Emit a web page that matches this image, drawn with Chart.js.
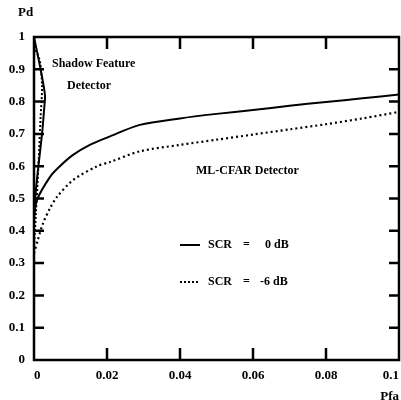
<!DOCTYPE html>
<html>
<head>
<meta charset="utf-8">
<script src="https://cdn.jsdelivr.net/npm/chart.js@4"></script>
<style>
  body { margin: 0; background: #fff; }
  #wrap { width: 401px; height: 400px; }
</style>
</head>
<body>
<div id="wrap"><canvas id="chart" width="401" height="400"></canvas></div>
<script>
// ML-CFAR detector curves
const pfaCfar0 = [0, 0.0008, 0.0044, 0.0071, 0.0107, 0.0153, 0.0203, 0.029, 0.04, 0.05, 0.06, 0.07, 0.08, 0.09, 0.1];
const pdCfar0 = [0.44, 0.495, 0.567, 0.60, 0.635, 0.666, 0.69, 0.728, 0.748, 0.762, 0.774, 0.787, 0.799, 0.81, 0.822];
const pfaCfar6 = [0, 0.001, 0.0025, 0.0044, 0.0063, 0.0107, 0.0173, 0.0208, 0.029, 0.04, 0.05, 0.06, 0.07, 0.08, 0.09, 0.1];
const pdCfar6 = [0.33, 0.37, 0.424, 0.47, 0.505, 0.557, 0.6, 0.613, 0.646, 0.666, 0.682, 0.698, 0.714, 0.73, 0.748, 0.768];

// shadow feature detector curves
const pfaShadow0 = [0, 0.0003, 0.0012, 0.0022, 0.0028, 0.003, 0.0018, 0];
const pdShadow0 = [0.45, 0.5, 0.6, 0.7, 0.78, 0.82, 0.9, 1.0];
const pfaShadow6 = [0, 0.0005, 0.0012, 0.0018, 0.0022, 0.0015, 0];
const pdShadow6 = [0.35, 0.45, 0.6, 0.75, 0.85, 0.93, 0.97];

const xTicks = [0, 0.02, 0.04, 0.06, 0.08, 0.1];
const yTicks = [0, 0.1, 0.2, 0.3, 0.4, 0.5, 0.6, 0.7, 0.8, 0.9, 1];

const toPoints = (xs, ys) => xs.map((x, i) => ({ x: x, y: ys[i] }));
const fmt = v => String(+Number(v).toFixed(2));
const serif = "'Liberation Serif', 'DejaVu Serif', serif";

const frameAndText = {
  id: "frameAndText",
  afterDraw(chart) {
    const ctx = chart.ctx;
    const a = chart.chartArea;
    const xs = chart.scales.x, ys = chart.scales.y;
    ctx.save();
    ctx.strokeStyle = "#000";
    ctx.lineWidth = 2.5;
    ctx.strokeRect(a.left, a.top, a.right - a.left, a.bottom - a.top);

    // inward ticks on all four sides
    ctx.beginPath();
    xTicks.slice(1, -1).forEach(v => {
      const px = xs.getPixelForValue(v);
      ctx.moveTo(px, a.bottom); ctx.lineTo(px, a.bottom - 12);
      ctx.moveTo(px, a.top); ctx.lineTo(px, a.top + 12);
    });
    yTicks.slice(1, -1).forEach(v => {
      const py = ys.getPixelForValue(v);
      ctx.moveTo(a.left, py); ctx.lineTo(a.left + 10, py);
      ctx.moveTo(a.right, py); ctx.lineTo(a.right - 10, py);
    });
    ctx.stroke();

    ctx.fillStyle = "#000";
    ctx.font = "bold 13px " + serif;
    ctx.textBaseline = "middle";
    ctx.textAlign = "left";
    ctx.fillText("Pd", 18, 13);

    ctx.font = "bold 12px " + serif;
    ctx.fillText("Shadow Feature", 52, 64);
    ctx.fillText("Detector", 67, 86);
    ctx.fillText("ML-CFAR Detector", 196, 171);

    // legend
    ctx.lineWidth = 2;
    ctx.beginPath();
    ctx.moveTo(180, 245); ctx.lineTo(200, 245);
    ctx.stroke();
    ctx.setLineDash([2, 2]);
    ctx.beginPath();
    ctx.moveTo(180, 282); ctx.lineTo(200, 282);
    ctx.stroke();
    ctx.setLineDash([]);
    ctx.fillText("SCR", 208, 245);
    ctx.fillText("=", 243, 245);
    ctx.fillText("0 dB", 265, 245);
    ctx.fillText("SCR", 208, 282);
    ctx.fillText("=", 243, 282);
    ctx.fillText("-6 dB", 260, 282);
    ctx.restore();
  }
};

new Chart(document.getElementById("chart").getContext("2d"), {
  type: "scatter",
  data: {
    datasets: [
      { label: "ML-CFAR SCR = 0 dB", data: toPoints(pfaCfar0, pdCfar0), borderWidth: 2 },
      { label: "ML-CFAR SCR = -6 dB", data: toPoints(pfaCfar6, pdCfar6), borderWidth: 2.2, borderDash: [2, 3] },
      { label: "Shadow SCR = 0 dB", data: toPoints(pfaShadow0, pdShadow0), borderWidth: 2 },
      { label: "Shadow SCR = -6 dB", data: toPoints(pfaShadow6, pdShadow6), borderWidth: 2, borderDash: [2, 2] }
    ].map(d => Object.assign(d, {
      showLine: true, pointRadius: 0, borderColor: "#000", backgroundColor: "#000",
      tension: 0.3, fill: false
    }))
  },
  options: {
    responsive: false,
    animation: false,
    layout: { padding: { top: 37, right: 2, left: 0, bottom: 0 } },
    plugins: { legend: { display: false }, tooltip: { enabled: false } },
    scales: {
      x: {
        type: "linear", min: 0, max: 0.1,
        afterBuildTicks: s => { s.ticks = xTicks.map(v => ({ value: v })); },
        afterFit: s => { s.height = 40; s.paddingLeft = 0; s.paddingRight = 0; },
        grid: { display: false },
        border: { display: false },
        ticks: { color: "#000", font: { family: serif, weight: "bold", size: 13 }, padding: 0, align: "inner", maxRotation: 0, callback: fmt },
        title: { display: true, text: "Pfa", align: "end", color: "#000", font: { family: serif, weight: "bold", size: 13 }, padding: { top: 0, bottom: -4 } }
      },
      y: {
        type: "linear", min: 0, max: 1,
        afterBuildTicks: s => { s.ticks = yTicks.map(v => ({ value: v })); },
        afterFit: s => { s.width = 34; },
        grid: { display: false },
        border: { display: false },
        ticks: { color: "#000", font: { family: serif, weight: "bold", size: 13 }, padding: 1, callback: fmt }
      }
    }
  },
  plugins: [frameAndText]
});
</script>
</body>
</html>
